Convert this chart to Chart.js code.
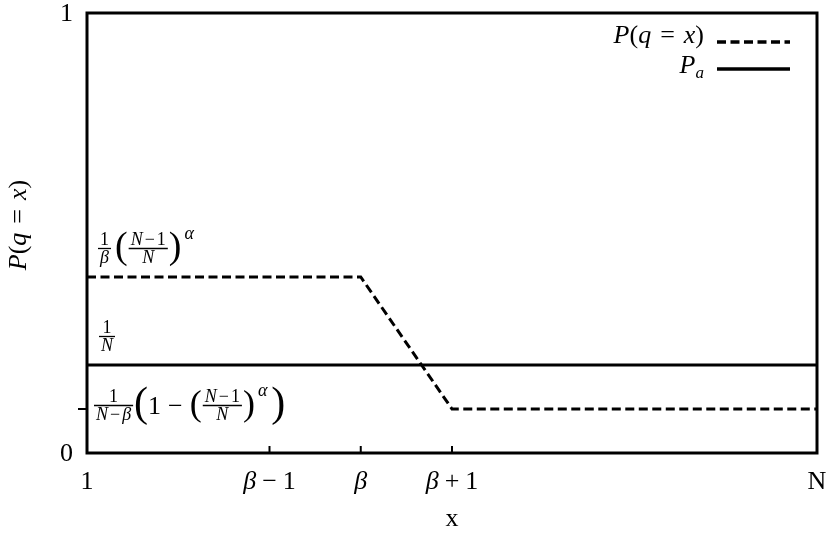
<!DOCTYPE html>
<html>
<head>
<meta charset="utf-8">
<script src="https://cdn.jsdelivr.net/npm/chart.js@4.4.1/dist/chart.umd.min.js"></script>
<style>
  html, body { margin: 0; padding: 0; background: #fff; }
  canvas { display: block; }
</style>
</head>
<body>
<canvas id="c" width="827" height="533"></canvas>
<script>
// Schematic x positions: 1, β−1, β, β+1, N
const xTickValues = [0, 2, 3, 4, 8];
const xTickLabels = ['1', 'β − 1', 'β', 'β + 1', 'N'];
const yTickValues = [0, 0.1, 1];
const yTickLabels = ['0', '', '1'];

// P(q = x): flat, linear drop between β and β+1, flat again
const pqX = [0, 3, 4, 8];
const pqY = [0.4, 0.4, 0.1, 0.1];
// P_a: uniform level
const paX = [0, 8];
const paY = [0.2, 0.2];

// Levels labelled by formulas at the left edge
const levelHigh = 0.4;
const levelMid = 0.2;
const levelLow = 0.1;

const FONT = "'Liberation Serif', 'Times New Roman', Times, serif";

// ---- small inline math typesetter (tokens of text / fractions) ----
function fontOf(t) { return (t.it ? 'italic ' : '') + t.s + 'px ' + FONT; }
function tokWidth(ctx, t) {
  if (t.frac) return Math.max(widthOf(ctx, t.num), widthOf(ctx, t.den)) + 2 * (t.pad || 3);
  if (t.t === undefined) return t.gap || 0;
  ctx.font = fontOf(t);
  return ctx.measureText(t.t).width + (t.gap || 0);
}
function widthOf(ctx, toks) { let w = 0; for (const t of toks) w += tokWidth(ctx, t); return w; }
function drawToks(ctx, toks, x, axis) {
  for (const t of toks) {
    const w = tokWidth(ctx, t);
    if (t.frac) {
      const ns = t.num.find(k => k.s).s, ds = t.den.find(k => k.s).s;
      const nw = widthOf(ctx, t.num), dw = widthOf(ctx, t.den);
      drawToks(ctx, t.num, x + (w - nw) / 2, axis - 3 - 0.28 * ns);
      drawToks(ctx, t.den, x + (w - dw) / 2, axis + 3 + 0.68 * ds - 0.28 * ds);
      ctx.save();
      ctx.strokeStyle = '#000'; ctx.lineWidth = 1.3;
      ctx.beginPath(); ctx.moveTo(x + 1, axis + 0.5); ctx.lineTo(x + w - 1, axis + 0.5); ctx.stroke();
      ctx.restore();
    } else if (t.t !== undefined) {
      ctx.font = fontOf(t);
      ctx.fillStyle = '#000';
      ctx.textAlign = 'left';
      ctx.textBaseline = 'alphabetic';
      const base = axis + (t.b !== undefined ? t.b : 0.28 * t.s);
      ctx.fillText(t.t, x, base);
    }
    x += w;
  }
  return x;
}
const I = (t, s, o) => Object.assign({ t, s, it: true }, o || {});
const R = (t, s, o) => Object.assign({ t, s, it: false }, o || {});
const G = (gap) => ({ gap });
const F = (num, den) => ({ frac: true, num, den });

// label string -> tokens (β italic, everything else upright)
function labelToks(str, s) {
  const out = [];
  for (const ch of str) {
    if (ch === ' ') out.push(G(6));
    else out.push(ch === 'β' ? I(ch, s) : R(ch, s));
  }
  return out;
}

const fs = 18;      // fraction size
const ts = 26;      // tick/title size
const numNm1 = () => [I('N', fs), G(2), R('−', fs), G(2), R('1', fs)];
const formulaHigh = [
  F([R('1', fs)], [I('β', fs)]), G(3),
  R('(', 38, { b: 10 }),
  F(numNm1(), [I('N', fs)]),
  R(')', 38, { b: 10 }), G(3),
  I('α', fs, { b: -9 })
];
const formulaMid = [F([R('1', fs)], [I('N', fs)])];
const formulaLow = [
  F([R('1', fs)], [I('N', fs), G(2), R('−', fs), G(2), I('β', fs)]),
  R('(', 42, { b: 11 }),
  R('1', 26, { b: 9 }), G(7), R('−', 26, { b: 9 }), G(7),
  R('(', 36, { b: 10 }),
  F(numNm1(), [I('N', fs)]),
  R(')', 36, { b: 10 }), G(3),
  I('α', fs, { b: -9 }), G(4),
  R(')', 42, { b: 11 })
];
const pqToks = () => [I('P', ts), R('(', ts), I('q', ts), G(9), R('=', ts), G(9), I('x', ts), R(')', ts)];
const legendToks = [
  pqToks(),
  [I('P', ts), I('a', 17, { b: 12 })]
];
const yTitleToks = pqToks();

// ---- decorations drawn through the chart scales ----
const decorations = {
  id: 'decorations',
  afterDatasetsDraw(chart) {
    const { ctx, chartArea: a, scales: { x, y } } = chart;
    ctx.save();
    // frame
    ctx.strokeStyle = '#000';
    ctx.lineWidth = 3;
    ctx.strokeRect(a.left, a.top, a.right - a.left, a.bottom - a.top);

    // x ticks (inward) and labels
    ctx.lineWidth = 2;
    xTickValues.forEach((v, i) => {
      const px = x.getPixelForValue(v);
      if (v > x.min && v < x.max) {
        ctx.beginPath(); ctx.moveTo(px, a.bottom); ctx.lineTo(px, a.bottom - 7); ctx.stroke();
      }
      const toks = labelToks(xTickLabels[i], ts);
      const w = widthOf(ctx, toks);
      drawToks(ctx, toks, px - w / 2, a.bottom + 36 - 0.28 * ts);
    });

    // y ticks and labels
    yTickValues.forEach((v, i) => {
      const py = y.getPixelForValue(v);
      if (v > y.min && v < y.max) {
        ctx.beginPath(); ctx.moveTo(a.left - 9, py); ctx.lineTo(a.left, py); ctx.stroke();
      }
      if (yTickLabels[i]) {
        const toks = labelToks(yTickLabels[i], ts);
        const w = widthOf(ctx, toks);
        drawToks(ctx, toks, a.left - 14 - w, py + 8 - 0.28 * ts);
      }
    });

    // level formulas
    drawToks(ctx, formulaHigh, a.left + 10, y.getPixelForValue(levelHigh) - 29);
    drawToks(ctx, formulaMid, a.left + 11, y.getPixelForValue(levelMid) - 29);
    drawToks(ctx, formulaLow, a.left + 6, y.getPixelForValue(levelLow) - 4);

    // axis titles
    const xt = [R('x', ts)];
    drawToks(ctx, xt, (a.left + a.right) / 2 - widthOf(ctx, xt) / 2, 526 - 0.28 * ts);
    ctx.translate(19, (a.top + a.bottom) / 2 - 8);
    ctx.rotate(-Math.PI / 2);
    drawToks(ctx, yTitleToks, -widthOf(ctx, yTitleToks) / 2, 0);
    ctx.restore();

    // key: text right-aligned, sample drawn with each dataset's style
    ctx.save();
    const rows = [{ base: 43, line: 42 }, { base: 73, line: 69 }];
    chart.data.datasets.forEach((ds, i) => {
      const toks = legendToks[i];
      const w = widthOf(ctx, toks);
      drawToks(ctx, toks, 704 - w, rows[i].base - 0.28 * ts);
      ctx.strokeStyle = ds.borderColor;
      ctx.lineWidth = ds.borderWidth + 0.5;
      ctx.setLineDash(ds.borderDash || []);
      ctx.beginPath(); ctx.moveTo(717, rows[i].line); ctx.lineTo(790, rows[i].line); ctx.stroke();
    });
    ctx.restore();
  }
};

new Chart(document.getElementById('c').getContext('2d'), {
  type: 'line',
  data: {
    datasets: [
      {
        label: 'P(q = x)',
        data: pqX.map((v, i) => ({ x: v, y: pqY[i] })),
        borderColor: '#000', borderWidth: 3, borderDash: [9, 4.5],
        pointRadius: 0, tension: 0, fill: false
      },
      {
        label: 'P_a',
        data: paX.map((v, i) => ({ x: v, y: paY[i] })),
        borderColor: '#000', borderWidth: 3,
        pointRadius: 0, tension: 0, fill: false
      }
    ]
  },
  options: {
    responsive: false,
    animation: false,
    devicePixelRatio: 1,
    layout: { padding: { left: 87, top: 13, right: 10, bottom: 80 } },
    plugins: { legend: { display: false }, tooltip: { enabled: false } },
    scales: {
      x: { type: 'linear', min: 0, max: 8, display: false },
      y: { type: 'linear', min: 0, max: 1, display: false }
    }
  },
  plugins: [decorations]
});
</script>
</body>
</html>
